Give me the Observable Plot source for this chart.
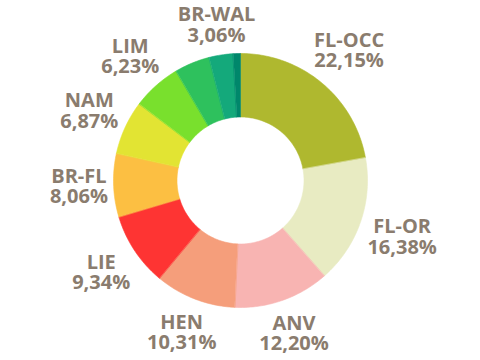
<!DOCTYPE html>
<html>
<head>
<meta charset="utf-8">
<script src="https://cdn.jsdelivr.net/npm/d3@7"></script>
<script src="https://cdn.jsdelivr.net/npm/@observablehq/plot@0.6"></script>
<style>
  html, body { margin: 0; padding: 0; background: #fff; }
  #chart svg { display: block; }
</style>
</head>
<body>
<div id="chart"></div>
<script>
// Slices, clockwise from 12 o'clock
const names  = ["FL-OCC", "FL-OR", "ANV", "HEN", "LIE", "BR-FL", "NAM", "LIM", "", "BR-WAL", ""];
const shares = [22.15, 16.38, 12.20, 10.31, 9.34, 8.06, 6.87, 6.23, 4.49, 3.06, 0.91];
const labels = ["22,15%", "16,38%", "12,20%", "10,31%", "9,34%", "8,06%", "6,87%", "6,23%", "", "3,06%", ""];
const colors = ["#afb82f", "#e8ebc2", "#f8b4b2", "#f59e7b", "#fe3433", "#fcbf42", "#e2e433", "#79e02d", "#2ec15d", "#14a97b", "#00876b"];

const W = 480, H = 360, R = 127, cx = 240, cy = 180;
const innerR = 0.5;
const fontSize = 20, lineGap = 20.5, labelGap = 132; // px
const font = `700 ${fontSize}px 'Open Sans'`;

const ctx = document.createElement("canvas").getContext("2d");
ctx.font = font;
const textWidth = s => ctx.measureText(s).width;

const total = d3.sum(shares);
const rows = [];
const labelRows = [];
let cum = 0;
shares.forEach((s, i) => {
  const a0 = cum / total * 2 * Math.PI;
  const a1 = (cum + s) / total * 2 * Math.PI;
  const n = Math.max(2, Math.ceil(s * 3));
  for (let k = 0; k <= n; k++) {
    const a = a0 + (a1 - a0) * k / n;
    rows.push({slice: i, x: Math.sin(a), y: Math.cos(a)});
  }
  for (let k = n; k >= 0; k--) {
    const a = a0 + (a1 - a0) * k / n;
    rows.push({slice: i, x: innerR * Math.sin(a), y: innerR * Math.cos(a)});
  }
  if (names[i]) {
    const am = (a0 + a1) / 2;
    const halfW = Math.max(textWidth(names[i]), textWidth(labels[i])) / 2;
    const halfH = lineGap * 0.95;
    const ext = Math.abs(Math.sin(am)) * halfW + Math.abs(Math.cos(am)) * halfH;
    const r = (labelGap + ext) / R;
    labelRows.push({x: r * Math.sin(am), y: r * Math.cos(am), text: names[i] + "\n" + labels[i]});
  }
  cum += s;
});

const chart = Plot.plot({
  width: W,
  height: H,
  margin: 0,
  x: {domain: [-cx / R, (W - cx) / R], axis: null},
  y: {domain: [-(H - cy) / R, cy / R], axis: null},
  color: {type: "ordinal", domain: d3.range(shares.length), range: colors},
  style: {background: "#fff"},
  marks: [
    Plot.line(rows, {x: "x", y: "y", z: "slice", fill: "slice", stroke: "slice", strokeWidth: 0.6, curve: "linear-closed"}),
    Plot.text(labelRows, {
      x: "x", y: "y", text: "text",
      fill: "#8a7c6e", fontSize: fontSize, fontWeight: 700, lineHeight: lineGap / fontSize,
      fontFamily: "'Open Sans', sans-serif"
    })
  ]
});
document.getElementById("chart").append(chart);
</script>
</body>
</html>
